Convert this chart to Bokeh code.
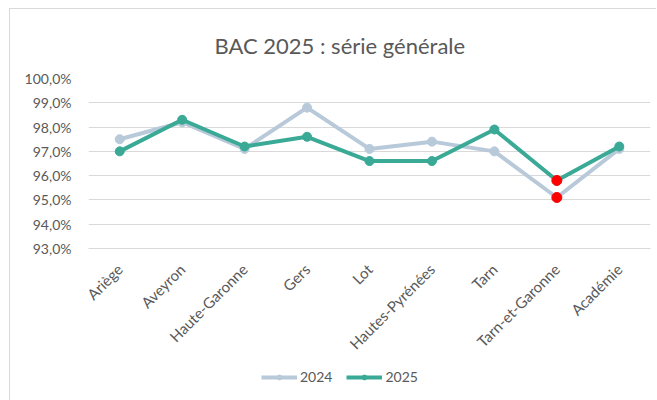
import math
from bokeh.plotting import figure
from bokeh.layouts import column
from bokeh.models import FactorRange, Range1d, FixedTicker, Legend, LegendItem, ColumnDataSource
from bokeh.embed import file_html
from bokeh.resources import INLINE

title_text = "BAC 2025 : série générale"
categories = ["Ariège", "Aveyron", "Haute-Garonne", "Gers", "Lot",
              "Hautes-Pyrénées", "Tarn", "Tarn-et-Garonne", "Académie"]
values_2024 = [97.5, 98.2, 97.1, 98.8, 97.1, 97.4, 97.0, 95.1, 97.1]
values_2025 = [97.0, 98.3, 97.2, 97.6, 96.6, 96.6, 97.9, 95.8, 97.2]
highlight = ["Tarn-et-Garonne"]
series_names = ["2024", "2025"]
y_ticks = [93, 94, 95, 96, 97, 98, 99, 100]
y_tick_labels = ["93,0%", "94,0%", "95,0%", "96,0%", "97,0%", "98,0%", "99,0%", "100,0%"]

FONT = "Lato"
GREY_TXT = "#595959"
C2024 = "#B8C9D9"
C2025 = "#3AA996"

p = figure(width=647, frame_height=169, x_range=FactorRange(*categories),
           y_range=Range1d(93, 100), output_backend="svg", toolbar_location=None,
           min_border_left=78, min_border_right=7, min_border_top=68, min_border_bottom=110)
p.styles = {"border-top": "1px solid #d9d9d9", "border-left": "1px solid #d9d9d9"}
p.x_range.range_padding = 0
p.outline_line_color = None

p.title.text = title_text
p.title.text_font = FONT
p.title.text_font_size = "22px"
p.title.text_font_style = "normal"
p.title.text_color = GREY_TXT
p.title.align = "left"
p.title.offset = 126
p.title.standoff = 40

# y axis
p.yaxis.ticker = FixedTicker(ticks=y_ticks)
p.yaxis.major_label_overrides = {t: l for t, l in zip(y_ticks, y_tick_labels)}
p.yaxis.axis_line_color = None
p.yaxis.major_tick_line_color = None
p.yaxis.minor_tick_line_color = None
p.yaxis.major_label_text_font = FONT
p.yaxis.major_label_text_font_size = "14px"
p.yaxis.major_label_text_color = GREY_TXT
p.yaxis.major_label_standoff = 11

# x axis
p.xaxis.axis_line_color = "#d9d9d9"
p.xaxis.major_tick_line_color = None
p.xaxis.minor_tick_line_color = None
p.xaxis.major_label_orientation = math.pi / 4
p.xaxis.major_label_text_font = FONT
p.xaxis.major_label_text_font_size = "15px"
p.xaxis.major_label_text_color = GREY_TXT
p.xaxis.major_label_standoff = 12

p.xgrid.grid_line_color = None
p.ygrid.grid_line_color = "#d9d9d9"
p.ygrid.grid_line_width = 1

src = ColumnDataSource(dict(x=categories, y24=values_2024, y25=values_2025))

p.line("x", "y24", source=src, line_color=C2024, line_width=4)
p.scatter("x", "y24", source=src, size=9, fill_color=C2024, line_color=C2024)
p.line("x", "y25", source=src, line_color=C2025, line_width=4)
p.scatter("x", "y25", source=src, size=9, fill_color=C2025, line_color=C2025)

hx = [c for c in categories if c in highlight]
h24 = [v for c, v in zip(categories, values_2024) if c in highlight]
h25 = [v for c, v in zip(categories, values_2025) if c in highlight]
p.scatter(hx, h24, size=10, fill_color="#FF0000", line_color="#FF0000")
p.scatter(hx, h25, size=10, fill_color="#FF0000", line_color="#FF0000")

# legend strip below the chart (dummy renderers only supply legend swatches)
lp = figure(width=647, height=44, output_backend="svg", toolbar_location=None,
            x_range=Range1d(0, 1), y_range=Range1d(0, 1),
            min_border=0, min_border_left=0, min_border_right=0,
            min_border_top=0, min_border_bottom=0)
lp.styles = {"border-left": "1px solid #d9d9d9"}
lp.axis.visible = False
lp.grid.visible = False
lp.outline_line_color = None
nan_src = ColumnDataSource(dict(x=[float("nan")], y=[float("nan")]))
items = []
for name, col in zip(series_names, [C2024, C2025]):
    lr = lp.line("x", "y", source=nan_src, line_color=col, line_width=4)
    sr = lp.scatter("x", "y", source=nan_src, size=8, fill_color=col, line_color=col)
    items.append(LegendItem(label=name, renderers=[lr, sr]))
legend = Legend(items=items, orientation="horizontal", location=(173, 20),
                label_text_font=FONT, label_text_font_size="14px",
                label_text_color=GREY_TXT, glyph_width=36, glyph_height=12,
                spacing=14, label_standoff=3, padding=0, margin=0,
                background_fill_alpha=0, border_line_color=None)
lp.add_layout(legend, "center")

layout = column(p, lp, spacing=0, styles={"margin-left": "9px", "margin-top": "8px"})
open("out.html", "w").write(file_html(layout, INLINE))
